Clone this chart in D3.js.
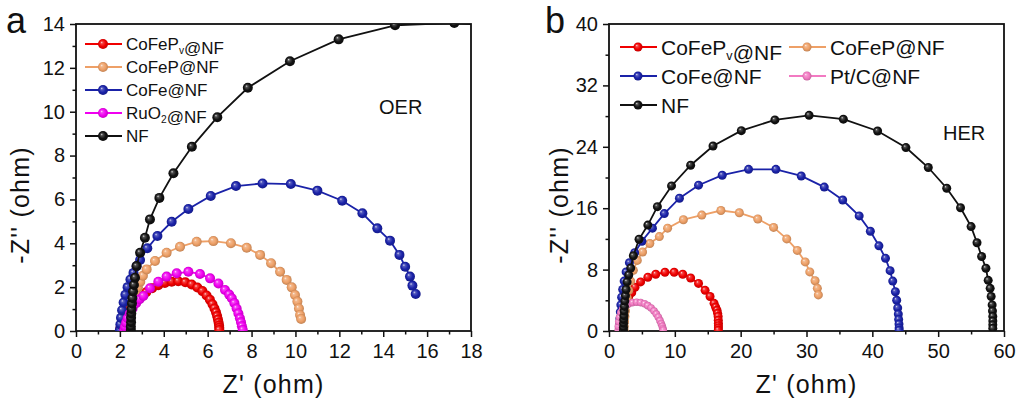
<!DOCTYPE html>
<html>
<head>
<meta charset="utf-8">
<script src="https://cdn.jsdelivr.net/npm/d3@7"></script>
<style>
  body { margin: 0; background: #fff; }
  svg { font-family: Arial, "Liberation Sans", sans-serif; }
</style>
</head>
<body>
<svg id="chart" width="1020" height="401"></svg>
<script>
// ---- data: [Z', -Z''] pairs ----
// panel a, OER
const oerCoFePv = [[2.01,0.08],[2.05,0.22],[2.11,0.38],[2.19,0.55],[2.29,0.74],[2.41,0.94],[2.56,1.15],[2.74,1.36],[2.96,1.57],[3.2,1.77],[3.47,1.95],[3.75,2.09],[4.05,2.19],[4.36,2.25],[4.66,2.27],[4.98,2.22],[5.27,2.12],[5.53,1.98],[5.76,1.82],[5.95,1.62],[6.1,1.43],[6.22,1.22],[6.31,1.03],[6.38,0.85],[6.43,0.68],[6.47,0.52],[6.5,0.38],[6.52,0.25],[6.53,0.15],[6.53,0.05]];
const oerCoFeP = [[2.4,0.05],[2.42,0.25],[2.45,0.5],[2.5,0.8],[2.56,1.1],[2.63,1.4],[2.72,1.7],[2.82,2.0],[2.93,2.25],[3.05,2.52],[3.22,2.81],[3.6,3.19],[4.13,3.57],[4.74,3.84],[5.5,4.07],[6.26,4.1],[7.06,4.0],[7.78,3.8],[8.39,3.47],[8.89,3.09],[9.3,2.7],[9.6,2.33],[9.83,1.99],[9.98,1.64],[10.09,1.34],[10.16,1.03],[10.21,0.73],[10.26,0.55]];
const oerCoFe = [[2.0,0.05],[2.02,0.3],[2.05,0.6],[2.1,0.95],[2.17,1.3],[2.25,1.65],[2.35,2.0],[2.48,2.35],[2.62,2.65],[2.76,2.95],[2.92,3.24],[3.25,3.77],[3.71,4.33],[4.36,4.98],[5.12,5.56],[6.14,6.16],[7.29,6.61],[8.5,6.73],[9.79,6.7],[11.0,6.4],[12.13,5.94],[13.05,5.37],[13.73,4.68],[14.31,4.12],[14.74,3.47],[15.0,2.93],[15.22,2.48],[15.33,2.07],[15.48,1.69]];
const oerRuO2 = [[2.2,0.05],[2.23,0.2],[2.28,0.38],[2.35,0.58],[2.45,0.8],[2.58,1.03],[2.74,1.27],[2.9,1.45],[3.07,1.6],[3.37,1.95],[3.75,2.25],[4.13,2.48],[4.59,2.63],[5.12,2.7],[5.65,2.6],[6.11,2.4],[6.49,2.17],[6.79,1.87],[6.98,1.66],[7.1,1.49],[7.22,1.27],[7.32,1.03],[7.4,0.8],[7.47,0.58],[7.52,0.4],[7.56,0.22],[7.6,0.05]];
const oerNF = [[2.5,0.05],[2.5,0.2],[2.51,0.4],[2.51,0.6],[2.52,0.8],[2.53,1.0],[2.55,1.25],[2.57,1.5],[2.6,1.8],[2.64,2.1],[2.69,2.43],[2.76,2.96],[2.92,3.57],[3.14,4.25],[3.37,5.09],[3.8,6.07],[4.44,7.19],[5.28,8.4],[6.44,9.75],[7.83,11.09],[9.75,12.3],[11.97,13.3],[14.54,13.94],[17.24,14.05],[20.0,13.85]];

// panel b, HER
const herCoFePv = [[2.0,0.1],[2.02,0.6],[2.06,1.2],[2.13,1.8],[2.24,2.5],[2.4,3.2],[2.65,3.9],[3.0,4.5],[3.45,5.0],[3.95,5.7],[4.8,6.4],[5.9,7.0],[7.1,7.4],[8.5,7.65],[9.9,7.65],[11.2,7.4],[12.4,6.9],[13.6,6.2],[14.6,5.3],[15.35,4.5],[15.96,3.6],[16.2,3.1],[16.4,2.7],[16.5,2.3],[16.58,1.9],[16.6,1.4],[16.62,1.0],[16.62,0.7],[16.62,0.4],[16.6,0.1]];
const herCoFeP = [[2.3,0.1],[2.32,0.6],[2.36,1.2],[2.42,1.9],[2.5,2.6],[2.62,3.4],[2.78,4.3],[3.0,5.3],[3.3,6.5],[3.7,7.9],[4.3,9.2],[5.1,10.3],[6.2,11.4],[7.65,12.3],[8.9,13.4],[11.3,14.5],[14.1,15.1],[17.0,15.7],[19.8,15.4],[22.6,14.6],[25.0,13.5],[27.0,12.0],[28.6,10.5],[29.8,9.0],[30.5,7.7],[31.3,6.55],[31.65,5.56],[31.8,4.7]];
const herCoFe = [[1.6,0.1],[1.62,0.8],[1.66,1.6],[1.72,2.5],[1.8,3.4],[1.92,4.4],[2.08,5.4],[2.3,6.5],[2.6,7.7],[3.1,8.9],[3.9,10.2],[5.0,11.7],[6.6,13.4],[8.4,15.3],[10.7,17.3],[13.6,19.0],[17.2,20.3],[21.2,21.06],[25.35,21.06],[29.2,20.2],[32.7,18.75],[35.5,17.07],[38.0,15.0],[39.7,13.0],[41.0,11.1],[42.0,9.47],[42.7,7.86],[43.1,6.5],[43.5,5.12],[43.7,4.0],[43.85,3.0],[43.95,2.2],[44.0,1.5],[44.05,0.9],[44.07,0.4],[44.07,0.1]];
const herPtC = [[1.4,0.1],[1.42,0.6],[1.48,1.2],[1.6,1.8],[1.8,2.4],[2.1,2.9],[2.5,3.3],[3.0,3.55],[3.6,3.7],[4.2,3.75],[4.8,3.7],[5.4,3.55],[5.9,3.3],[6.4,3.0],[6.85,2.6],[7.2,2.2],[7.5,1.8],[7.75,1.35],[7.95,0.95],[8.1,0.6],[8.2,0.3],[8.25,0.1]];
const herNF = [[2.2,0.1],[2.2,0.5],[2.22,1.0],[2.24,1.5],[2.27,2.0],[2.3,2.6],[2.34,3.2],[2.4,3.9],[2.5,4.6],[2.6,5.4],[2.75,6.4],[3.0,7.3],[3.3,8.2],[3.7,9.8],[4.56,11.95],[5.9,13.8],[7.35,16.2],[9.5,18.9],[12.4,21.6],[15.8,24.1],[20.1,26.1],[25.2,27.5],[30.4,28.1],[35.6,27.6],[40.8,26.06],[45.1,23.9],[48.5,21.3],[51.3,18.6],[53.4,16.06],[55.0,13.6],[55.9,11.5],[56.6,9.7],[57.25,8.17],[57.6,6.6],[57.9,5.56],[58.05,4.5],[58.2,3.4],[58.25,2.6],[58.3,1.9],[58.3,1.3],[58.3,0.8],[58.3,0.35]];

const oerTicksX = [0, 2, 4, 6, 8, 10, 12, 14, 16, 18];
const oerTicksY = [0, 2, 4, 6, 8, 10, 12, 14];
const herTicksX = [0, 10, 20, 30, 40, 50, 60];
const herTicksY = [0, 8, 16, 24, 32, 40];

const colors = {
  red: "#f00000", orange: "#eea067", blue: "#1a22a8",
  magenta: "#f000f0", pink: "#f27ac2", black: "#111111"
};

const svg = d3.select("#chart");
const defs = svg.append("defs");

// shaded ball markers like the original
Object.entries(colors).forEach(([k, c]) => {
  const g = defs.append("radialGradient").attr("id", "ball-" + k)
    .attr("cx", "50%").attr("cy", "50%").attr("r", "55%")
    .attr("fx", "35%").attr("fy", "32%");
  g.append("stop").attr("offset", "0%").attr("stop-color", d3.interpolateRgb(c, "#fff")(0.85));
  g.append("stop").attr("offset", "22%").attr("stop-color", d3.interpolateRgb(c, "#fff")(0.25));
  g.append("stop").attr("offset", "60%").attr("stop-color", c);
  g.append("stop").attr("offset", "100%").attr("stop-color", d3.color(c).darker(0.7));
});

function drawPanel(p) {
  const x = d3.scaleLinear().domain(p.xDomain).range([p.left, p.right]);
  const y = d3.scaleLinear().domain(p.yDomain).range([p.bottom, p.top]);
  const g = svg.append("g");

  defs.append("clipPath").attr("id", "clip-" + p.id)
    .append("rect").attr("x", p.left).attr("y", p.top)
    .attr("width", p.right - p.left).attr("height", p.bottom - p.top);

  // minor ticks
  g.append("g").attr("transform", "translate(0," + p.bottom + ")")
    .call(d3.axisBottom(x).tickValues(p.minorX).tickSize(3.5).tickFormat(""))
    .call(a => a.select(".domain").remove());
  g.append("g").attr("transform", "translate(" + p.left + ",0)")
    .call(d3.axisLeft(y).tickValues(p.minorY).tickSize(3.5).tickFormat(""))
    .call(a => a.select(".domain").remove());

  const ax = g.append("g").attr("transform", "translate(0," + p.bottom + ")")
    .call(d3.axisBottom(x).tickValues(p.ticksX).tickSize(6).tickPadding(7).tickSizeOuter(0));
  const ay = g.append("g").attr("transform", "translate(" + p.left + ",0)")
    .call(d3.axisLeft(y).tickValues(p.ticksY).tickSize(6).tickPadding(5).tickSizeOuter(0));
  [ax, ay].forEach(a => {
    a.selectAll("text").attr("font-size", 20).attr("fill", "#111").attr("font-family", "Arial, 'Liberation Sans', sans-serif");
    a.select(".domain").remove();
  });
  g.selectAll("line").attr("stroke", "#111").attr("stroke-width", 1.5);

  // frame
  g.append("rect").attr("x", p.left).attr("y", p.top)
    .attr("width", p.right - p.left).attr("height", p.bottom - p.top)
    .attr("fill", "none").attr("stroke", "#111").attr("stroke-width", 1.8);

  const plot = svg.append("g").attr("clip-path", "url(#clip-" + p.id + ")");
  const line = d3.line().x(d => x(d[0])).y(d => y(d[1]));

  p.series.forEach(s => {
    plot.append("path").datum(s.data)
      .attr("fill", "none").attr("stroke", colors[s.color])
      .attr("stroke-width", 1.8).attr("d", line);
    plot.selectAll(null).data(s.data).enter().append("circle")
      .attr("cx", d => x(d[0])).attr("cy", d => y(d[1]))
      .attr("r", s.r || p.r)
      .attr("fill", "url(#ball-" + s.color + ")");
  });

  // legend
  const leg = svg.append("g");
  p.series.forEach((s, i) => {
    const lx = p.legend.x + (i % p.legend.cols) * p.legend.colW;
    const ly = p.legend.y + Math.floor(i / p.legend.cols) * p.legend.rowH;
    leg.append("line").attr("x1", lx).attr("x2", lx + 37).attr("y1", ly).attr("y2", ly)
      .attr("stroke", colors[s.color]).attr("stroke-width", 1.8);
    leg.append("circle").attr("cx", lx + 18).attr("cy", ly).attr("r", p.r)
      .attr("fill", "url(#ball-" + s.color + ")");
    const t = leg.append("text").attr("x", lx + 41).attr("y", ly + p.legend.fs * 0.36)
      .attr("font-size", p.legend.fs).attr("fill", "#111");
    s.label.forEach(part => {
      if (part.sub) {
        t.append("tspan").attr("font-size", p.legend.fs * 0.6).attr("dy", p.legend.fs * 0.25).text(part.sub);
        t.append("tspan").attr("dy", -p.legend.fs * 0.25).text("");
      } else {
        t.append("tspan").text(part.t);
      }
    });
  });

  // titles
  svg.append("text").attr("x", (p.left + p.right) / 2).attr("y", 393)
    .attr("text-anchor", "middle").attr("font-size", 25).attr("letter-spacing", 1.2)
    .attr("fill", "#111").text("Z' (ohm)");
  svg.append("text").attr("transform", "translate(" + p.yTitleX + ",205) rotate(-90)")
    .attr("text-anchor", "middle").attr("font-size", 25).attr("letter-spacing", 1.2)
    .attr("fill", "#111").text("-Z'' (ohm)");
  svg.append("text").attr("x", p.tag.x).attr("y", p.tag.y)
    .attr("font-size", 20).attr("fill", "#111").text(p.tag.t);
  svg.append("text").attr("x", p.letterX).attr("y", 33)
    .attr("font-size", 36).attr("fill", "#111").text(p.letter);
}

drawPanel({
  id: "a", letter: "a", letterX: 6,
  left: 76, right: 471, top: 24, bottom: 331,
  xDomain: [0, 18], yDomain: [0, 14],
  ticksX: oerTicksX, ticksY: oerTicksY,
  minorX: [1, 3, 5, 7, 9, 11, 13, 15, 17], minorY: [1, 3, 5, 7, 9, 11, 13],
  r: 5, yTitleX: 29,
  tag: { x: 379, y: 114, t: "OER" },
  legend: { x: 85, y: 44, cols: 1, colW: 0, rowH: 23, fs: 17 },
  series: [
    { data: oerCoFePv, color: "red", label: [{ t: "CoFeP" }, { sub: "v" }, { t: "@NF" }] },
    { data: oerCoFeP, color: "orange", label: [{ t: "CoFeP@NF" }] },
    { data: oerCoFe, color: "blue", label: [{ t: "CoFe@NF" }] },
    { data: oerRuO2, color: "magenta", label: [{ t: "RuO" }, { sub: "2" }, { t: "@NF" }] },
    { data: oerNF, color: "black", label: [{ t: "NF" }] }
  ]
});

drawPanel({
  id: "b", letter: "b", letterX: 545,
  left: 609, right: 1004, top: 24, bottom: 331,
  xDomain: [0, 60], yDomain: [0, 40],
  ticksX: herTicksX, ticksY: herTicksY,
  minorX: [5, 15, 25, 35, 45, 55], minorY: [4, 12, 20, 28, 36],
  r: 4.5, yTitleX: 568,
  tag: { x: 943, y: 140, t: "HER" },
  legend: { x: 620, y: 47, cols: 2, colW: 169, rowH: 29, fs: 21 },
  series: [
    { data: herCoFePv, color: "red", label: [{ t: "CoFeP" }, { sub: "v" }, { t: "@NF" }] },
    { data: herCoFeP, color: "orange", label: [{ t: "CoFeP@NF" }] },
    { data: herCoFe, color: "blue", label: [{ t: "CoFe@NF" }] },
    { data: herPtC, color: "pink", r: 3.8, label: [{ t: "Pt/C@NF" }] },
    { data: herNF, color: "black", label: [{ t: "NF" }] }
  ]
});
</script>
</body>
</html>
